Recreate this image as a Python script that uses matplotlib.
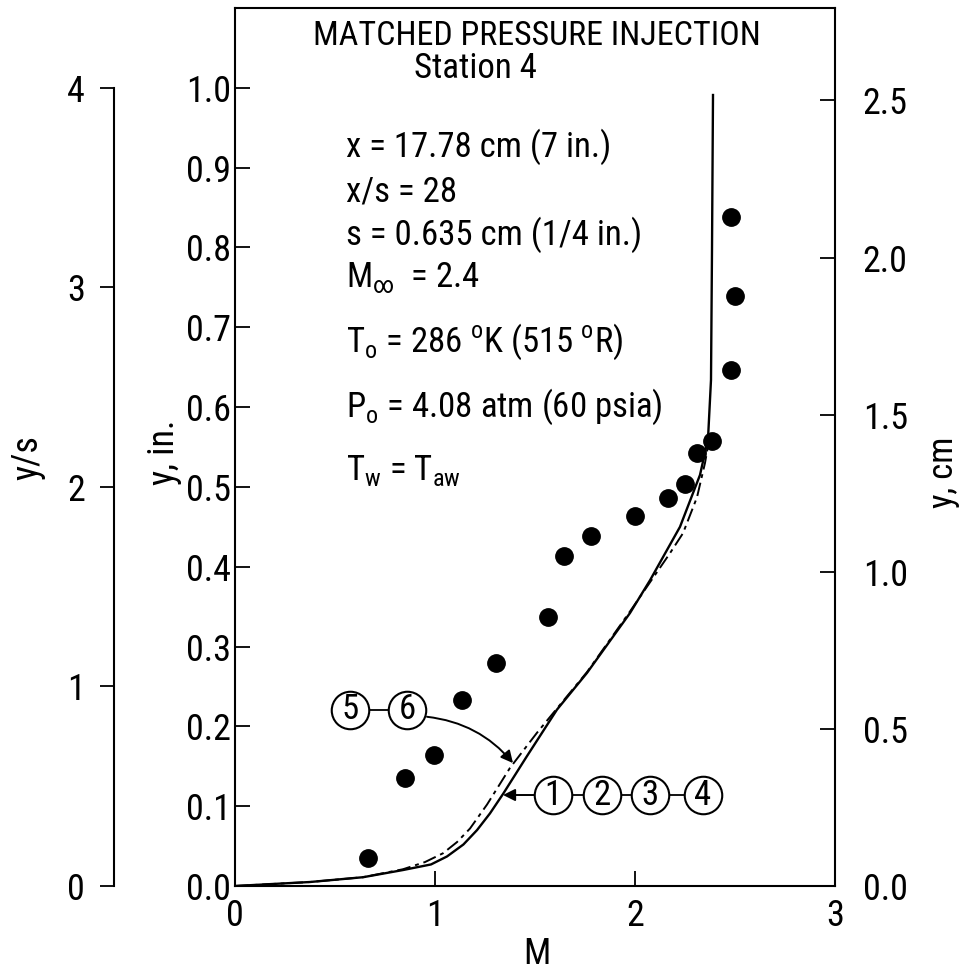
import matplotlib
matplotlib.use("Agg")
import matplotlib.pyplot as plt
from matplotlib import font_manager

# a narrow sans looks closest to the scanned lettering
names = {f.name for f in font_manager.fontManager.ttflist}
fam = 'DejaVu Sans'
for cand in ['DejaVu Sans Condensed', 'Roboto Condensed', 'Liberation Sans Narrow',
             'Open Sans Condensed', 'Liberation Sans']:
    if cand in names:
        fam = cand
        break
plt.rcParams['font.family'] = [fam, 'DejaVu Sans']
plt.rcParams['mathtext.fontset'] = 'custom'
plt.rcParams['mathtext.rm'] = fam

# measured points (M, y in.)
m_pts = [0.665, 0.85, 0.995, 1.135, 1.305, 1.565, 1.645, 1.78, 2.0, 2.165,
         2.25, 2.31, 2.385, 2.48, 2.5, 2.48]
y_pts = [0.035, 0.135, 0.164, 0.233, 0.280, 0.337, 0.414, 0.439, 0.463, 0.486,
         0.504, 0.542, 0.557, 0.646, 0.739, 0.838]

# curve for configurations 1-2-3-4 (solid)
m_solid = [0.0, 0.375, 0.64, 0.84, 0.98, 1.06, 1.142, 1.21, 1.275, 1.342, 1.458, 1.61,
           1.76, 1.975, 2.075, 2.225, 2.325, 2.365, 2.38, 2.385, 2.39]
y_solid = [0.0, 0.005, 0.011, 0.020, 0.027, 0.037, 0.052, 0.070, 0.091, 0.116,
           0.162, 0.221, 0.267, 0.342, 0.383, 0.450, 0.515, 0.560, 0.634, 0.797, 0.991]

# curve for configurations 5-6 (dash-dot)
m_dash = [0.0, 0.375, 0.64, 0.84, 0.95, 1.04, 1.11, 1.175, 1.26, 1.375, 1.51, 1.625,
          1.76, 1.975, 2.175, 2.24, 2.31, 2.35, 2.375]
y_dash = [0.0, 0.005, 0.011, 0.021, 0.030, 0.041, 0.055, 0.072, 0.102, 0.148,
          0.192, 0.227, 0.268, 0.344, 0.417, 0.442, 0.487, 0.530, 0.565]

y_in_ticks = [0.0, 0.1, 0.2, 0.3, 0.4, 0.5, 0.6, 0.7, 0.8, 0.9, 1.0]
y_cm_ticks = [0.0, 0.5, 1.0, 1.5, 2.0, 2.5]
ys_ticks = [0, 1, 2, 3, 4]
m_ticks = [0, 1, 2, 3]

title_lines = ['MATCHED PRESSURE INJECTION', 'Station 4']
param_lines = ['x = 17.78 cm (7 in.)',
               'x/s = 28',
               's = 0.635 cm (1/4 in.)',
               r'M$_{\mathregular{\infty}}$  = 2.4',
               r'T$_{\mathregular{o}}$ = 286 $^{\mathregular{o}}$K (515 $^{\mathregular{o}}$R)',
               r'P$_{\mathregular{o}}$ = 4.08 atm (60 psia)',
               r'T$_{\mathregular{w}}$ = T$_{\mathregular{aw}}$']
param_y = [0.9135, 0.857, 0.803, 0.751, 0.669, 0.588, 0.509]

tag_a = ['5', '6']
tag_a_x = [0.575, 0.86]
tag_a_y = 0.2206
tag_b = ['1', '2', '3', '4']
tag_b_x = [1.59, 1.835, 2.075, 2.34]
tag_b_y = 0.114

fs = 26

fig = plt.figure(figsize=(9.66, 9.76), dpi=100)
ax = fig.add_axes([235/966, 90/976, 600/966, 878/976])

ax.plot(m_solid, y_solid, color='black', lw=1.7, zorder=3)
ax.plot(m_dash, y_dash, color='black', lw=1.4, linestyle=(0, (7, 2.5, 2, 2.5)), zorder=3)
ax.plot(m_pts, y_pts, 'o', color='black', markersize=12.5, zorder=4)

ax.set_xlim(0, 3)
ax.set_ylim(0, 1.1)
ax.set_xticks(m_ticks)
ax.set_yticks(y_in_ticks)
ax.set_yticklabels(['%.1f' % v for v in y_in_ticks])
ax.tick_params(axis='both', direction='in', length=11, width=1.3, labelsize=fs, colors='black')
ax.tick_params(axis='y', pad=3)
ax.tick_params(axis='x', pad=9)
for sp in ax.spines.values():
    sp.set_linewidth(1.5)

# right axis, cm
ax2 = ax.twinx()
ax2.set_ylim(0, 1.1 * 2.54)
ax2.set_yticks(y_cm_ticks)
ax2.set_yticklabels(['%.1f' % v for v in y_cm_ticks])
ax2.tick_params(axis='y', direction='in', length=11, width=1.3, labelsize=fs, pad=20)
for sp in ax2.spines.values():
    sp.set_visible(False)

# left axis, y/s
ax3 = ax.twinx()
ax3.set_ylim(0, 1.1 * 4)
for k in ['top', 'bottom', 'right']:
    ax3.spines[k].set_visible(False)
ax3.spines['left'].set_position(('axes', (114 - 235) / 600))
ax3.spines['left'].set_bounds(0, 4)
ax3.spines['left'].set_linewidth(1.5)
ax3.yaxis.set_ticks_position('left')
ax3.yaxis.set_label_position('left')
ax3.set_yticks(ys_ticks)
ax3.tick_params(axis='y', direction='out', length=10, width=1.3, labelsize=fs, pad=11)

fig.text(537/966, 1 - 954/976, 'M', fontsize=fs, ha='center', va='center')
fig.text(164/966, 1 - 452/976, 'y, in.', fontsize=fs, ha='center', va='center', rotation=90)
fig.text(27/966, 1 - 458/976, 'y/s', fontsize=fs, ha='center', va='center', rotation=90)
fig.text(943/966, 1 - 472/976, 'y, cm', fontsize=25, ha='center', va='center', rotation=90)

ax.text(1.51, 1.054, title_lines[0], fontsize=24.5, ha='center', va='baseline')
ax.text(1.2, 1.0125, title_lines[1], fontsize=25, ha='center', va='baseline')
for s, yv in zip(param_lines, param_y):
    ax.text(0.555, yv, s, fontsize=25, ha='left', va='baseline')

# circled configuration tags
ax.plot(tag_a_x, [tag_a_y] * 2, color='black', lw=1.3, zorder=5)
ax.plot(tag_a_x, [tag_a_y] * 2, 'o', markersize=27, mfc='white', mec='black', mew=1.5, zorder=6)
for t, xv in zip(tag_a, tag_a_x):
    ax.text(xv, tag_a_y, t, fontsize=25, ha='center', va='center', zorder=7)
ax.plot(tag_b_x, [tag_b_y] * 4, color='black', lw=1.3, zorder=5)
ax.plot(tag_b_x, [tag_b_y] * 4, 'o', markersize=27, mfc='white', mec='black', mew=1.5, zorder=6)
for t, xv in zip(tag_b, tag_b_x):
    ax.text(xv, tag_b_y, t, fontsize=25, ha='center', va='center', zorder=7)

ax.annotate('', xy=(1.39, 0.154), xytext=(0.96, 0.212),
            arrowprops=dict(arrowstyle='-|>', color='black', lw=1.4, mutation_scale=18,
                            connectionstyle='arc3,rad=-0.2', shrinkA=0, shrinkB=0))
ax.annotate('', xy=(1.34, 0.114), xytext=(1.5, 0.114),
            arrowprops=dict(arrowstyle='-|>', color='black', lw=1.4, mutation_scale=18,
                            shrinkA=0, shrinkB=0))

fig.savefig('out.png', dpi=100)
